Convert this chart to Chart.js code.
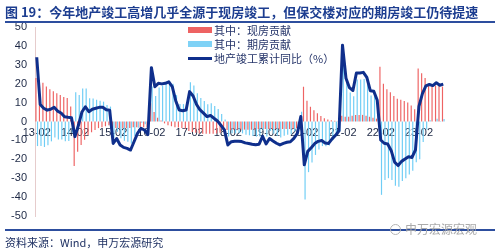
<!DOCTYPE html>
<html lang="zh">
<head>
  <meta charset="UTF-8">
  <title>图19 地产竣工</title>
  <script src="https://cdn.jsdelivr.net/npm/chart.js"></script>
  <style>
    body {
      margin: 0;
      width: 500px;
      height: 252px;
      background: #ffffff;
      position: relative;
      overflow: hidden;
      font-family: "Noto Sans CJK SC", "Noto Sans", sans-serif;
    }
    #chart {
      position: absolute;
      left: 0;
      top: 0;
    }
    .title {
      position: absolute;
      left: 5px;
      top: 3px;
      font-size: 13px;
      line-height: 18px;
      font-weight: bold;
      color: #1c3d90;
      white-space: nowrap;
    }
    .rule {
      position: absolute;
      left: 5px;
      width: 490px;
      background: #2d4e9e;
    }
    .legend-row {
      position: absolute;
      left: 188px;
      height: 14px;
      font-size: 11px;
      line-height: 14px;
      color: #26356a;
      white-space: nowrap;
    }
    .legend-row .sw {
      position: absolute;
      left: 0;
      width: 24px;
    }
    .legend-row span {
      position: absolute;
      left: 26px;
      top: 0;
    }
    .source {
      position: absolute;
      left: 5px;
      top: 235px;
      font-size: 11px;
      line-height: 15px;
      color: #1f3163;
    }
    .mark {
      position: absolute;
      left: 405px;
      top: 221px;
      font-size: 12px;
      line-height: 16px;
      color: #aaaaaa;
      white-space: nowrap;
    }
    .mark i {
      position: absolute;
      left: -15px;
      top: 3px;
      width: 9px;
      height: 9px;
      border: 1px solid #b4b4b4;
      border-radius: 50%;
    }
  </style>
</head>
<body>

<canvas id="chart" width="500" height="252"></canvas>

<div class="title">图 19：今年地产竣工高增几乎全源于现房竣工，但保交楼对应的期房竣工仍待提速</div>
<div class="rule" style="top:21px; height:2px;"></div>

<!-- legend -->
<div class="legend-row" style="top:23px;"><div class="sw" style="top:4px; height:6px; background:#ee6363;"></div><span>其中：现房贡献</span></div>
<div class="legend-row" style="top:37px;"><div class="sw" style="top:4px; height:6px; background:#7fd2f6;"></div><span>其中：期房贡献</span></div>
<div class="legend-row" style="top:51px;"><div class="sw" style="top:6px; height:3px; background:#0f2f8c;"></div><span>地产竣工累计同比（%）</span></div>

<div class="rule" style="top:229px; height:1.5px;"></div>
<div class="source">资料来源：Wind，申万宏源研究</div>
<div class="mark"><i></i>申万宏源宏观</div>

<script>
// months shown: Jan-Feb combined, so each year starts at 02
const years = ['13', '14', '15', '16', '17', '18', '19', '20', '21', '22', '23'];
const months = ['02', '03', '04', '05', '06', '07', '08', '09', '10', '11', '12'];
const lastMonth = '09';

const labels = [];
years.forEach(y => {
  for (const m of months) {
    labels.push(y + '-' + m);
    if (y === '23' && m === lastMonth) break;
  }
});

// 地产竣工累计同比（%）
const totalYoy = [
  34.0, 9.0, 7.0, 6.0, 6.5, 7.5, 5.5, 4.5, 2.5, 2.2, 2.0,
  -8.0, -2.0, 5.0, 7.8, 5.2, 6.5, 7.0, 7.5, 7.5, 6.2, 5.9,
  -11.6, -9.0, -12.4, -13.7, -14.2, -15.1, -10.7, -6.3, -3.6, -4.5, -6.9,
  28.5, 18.4, 20.2, 19.9, 20.2, 21.0, 18.4, 11.0, 6.1, 5.7, 6.1,
  15.8, 13.5, 9.0, 6.1, 4.4, 2.6, 3.2, 1.7, 0.3, -2.0, -4.4,
  -12.4, -10.7, -10.5, -10.4, -10.6, -11.3, -11.6, -12.0, -12.3, -12.0, -7.8,
  -11.9, -9.0, -10.3, -11.5, -12.4, -11.6, -11.0, -10.7, -8.9, -6.3, 2.6,
  -22.9, -15.8, -13.9, -11.7, -10.5, -10.1, -11.4, -11.6, -9.2, -7.3, -4.9,
  40.4, 22.9, 17.9, 16.4, 25.7, 25.7, 26.0, 23.4, 16.3, 16.0, 11.2,
  -9.8, -11.5, -11.9, -15.3, -21.5, -23.3, -21.1, -19.9, -18.7, -19.0, -15.0,
  8.0, 14.7, 18.8, 19.6, 19.0, 20.5, 19.2, 19.8
];

// 其中：现房贡献
const spotPart = [
  23.0, 22.0, 20.5, 18.5, 17.0, 16.0, 15.0, 14.0, 13.0, 12.5, 8.0,
  -23.5, -16.0, -12.4, -9.7, -7.1, -5.7, -4.5, -3.5, -3.0, -2.5, -2.0,
  -3.0, -3.5, -3.5, -3.5, -3.5, -3.5, -3.0, -3.0, -3.0, -3.0, -3.2,
  9.8, 5.0, 2.0, 0.5, -1.0, -2.0, -2.5, -3.0, -3.2, -3.5, -3.8,
  -5.0, -5.5, -6.0, -6.3, -6.5, -6.5, -6.5, -6.5, -6.3, -6.0, -5.5,
  -4.5, -4.5, -4.3, -4.3, -4.3, -4.3, -4.3, -4.3, -4.3, -4.0, -3.5,
  -4.0, -4.0, -4.0, -4.0, -4.0, -4.0, -4.0, -4.0, -3.8, -3.5, -2.5,
  18.4, 11.0, 7.8, 6.0, 4.3, 2.9, 1.7, 1.1, 0.7, 0.4, 0.2,
  3.0, 2.5, 2.5, 3.0, 3.5, 3.5, 3.5, 3.0, 2.5, 2.0, 1.5,
  29.0, 20.0, 17.0, 15.5, 13.5, 12.0, 11.5, 10.8, 10.0, 8.5, 6.5,
  28.0, 25.5, 23.0, 19.0, 19.0, 19.0, 19.0, 18.5
];

// 其中：期房贡献
const presalePart = [
  -13.0, -13.0, -13.5, -12.5, -10.5, -8.5, -9.5, -9.5, -10.5, -10.3, -6.0,
  15.5, 14.0, 17.4, 17.5, 12.3, 12.2, 11.5, 11.0, 10.5, 8.7, 7.9,
  -8.6, -5.5, -8.9, -10.2, -10.7, -11.6, -7.7, -3.3, -0.6, -1.5, -3.7,
  18.5, 13.5, 18.0, 19.0, 20.5, 21.5, 20.0, 14.0, 9.3, 9.2, 9.9,
  20.8, 19.0, 15.0, 12.4, 10.9, 9.1, 9.7, 8.2, 6.6, 4.0, 1.1,
  -7.9, -6.2, -6.2, -6.1, -6.3, -7.0, -7.3, -7.7, -8.0, -8.0, -4.3,
  -7.9, -5.0, -6.3, -7.5, -8.4, -7.6, -7.0, -6.7, -5.1, -2.8, 5.1,
  -41.3, -26.8, -21.7, -17.7, -14.8, -13.0, -13.1, -12.7, -9.9, -7.7, -5.1,
  37.4, 20.4, 15.4, 13.4, 22.2, 22.2, 22.5, 20.4, 13.8, 14.0, 9.7,
  -38.8, -31.0, -30.0, -31.0, -34.0, -34.5, -31.5, -30.0, -28.0, -26.0, -21.5,
  -20.0, -10.8, -4.2, 0.6, 0.0, 1.5, 0.2, 1.3
];

const yTicks = [50, 40, 30, 20, 10, 0, -10, -20, -30, -40, -50];

const ctx = document.getElementById('chart').getContext('2d');
new Chart(ctx, {
  data: {
    labels: labels,
    datasets: [
      {
        type: 'line',
        label: '地产竣工累计同比（%）',
        data: totalYoy,
        borderColor: '#0f2f8c',
        borderWidth: 3,
        pointRadius: 0,
        tension: 0,
        borderJoinStyle: 'round',
        order: 0
      },
      {
        type: 'bar',
        label: '其中：现房贡献',
        data: spotPart,
        backgroundColor: '#ee6363',
        categoryPercentage: 0.9,
        barPercentage: 0.75,
        order: 1
      },
      {
        type: 'bar',
        label: '其中：期房贡献',
        data: presalePart,
        backgroundColor: '#6fcdf5',
        categoryPercentage: 0.9,
        barPercentage: 0.75,
        order: 2
      }
    ]
  },
  options: {
    responsive: false,
    animation: false,
    devicePixelRatio: 1,
    layout: { padding: { left: 0, right: 55, top: 27, bottom: 36 } },
    plugins: {
      legend: { display: false },
      tooltip: { enabled: false }
    },
    scales: {
      x: {
        type: 'category',
        position: { y: 0 },
        z: 1,
        grid: { display: false, drawTicks: false },
        border: { display: false },
        ticks: {
          autoSkip: false,
          maxRotation: 0,
          minRotation: 0,
          padding: 5,
          color: '#1d2845',
          font: { family: 'Liberation Sans', size: 11 },
          callback: (v, i) => labels[i].endsWith('-02') ? labels[i] : ''
        }
      },
      y: {
        min: -50,
        max: 50,
        afterFit: s => { s.width = 35; },
        afterBuildTicks: s => { s.ticks = yTicks.map(v => ({ value: v })); },
        grid: { display: false, drawTicks: false },
        border: { display: true, color: '#e6cccc', width: 1 },
        ticks: {
          padding: 8,
          color: '#1d2845',
          font: { family: 'Liberation Sans', size: 11 }
        }
      }
    }
  }
});
</script>
</body>
</html>
